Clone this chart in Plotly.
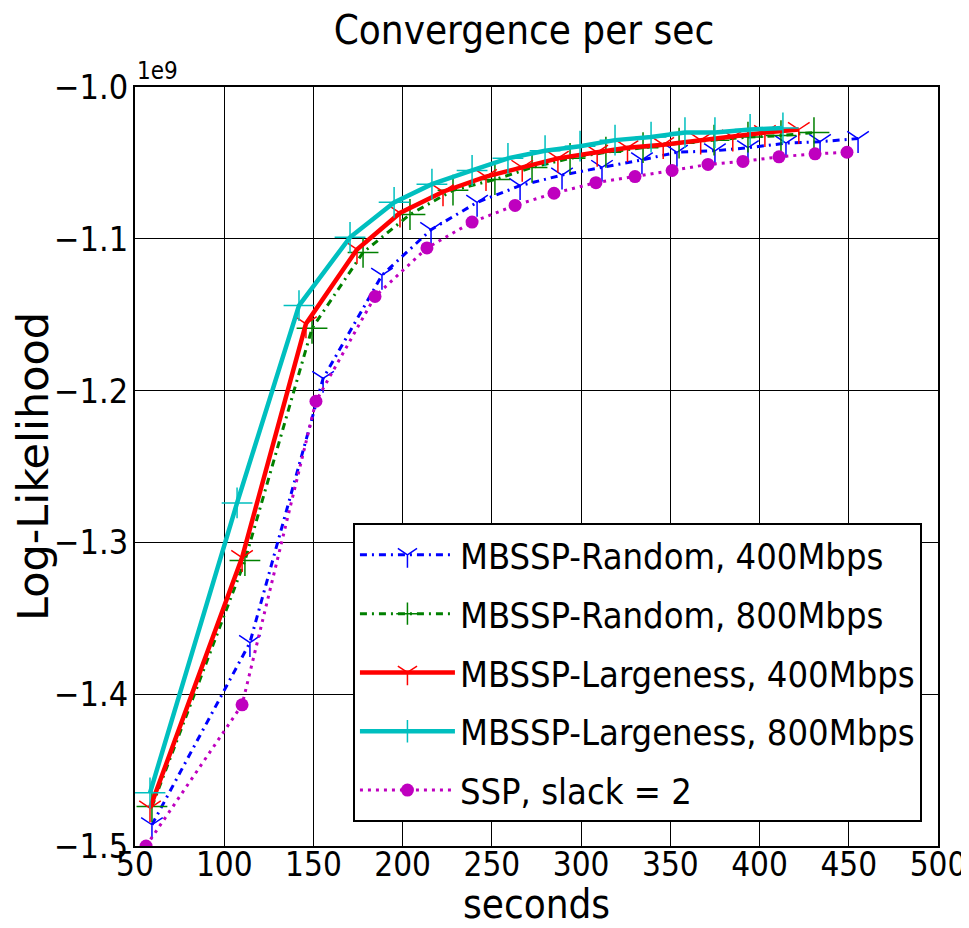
import plotly.graph_objects as go

# Values in units of 1e9
rand400_x = [59.5, 114.4, 155.4, 188.4, 215.9, 241.7, 265.8, 289.3, 311.7, 334.1, 353.7, 375.0, 393.5, 414.8, 433.9, 455.2]
rand400_y = [-1.486, -1.366, -1.192, -1.124, -1.094, -1.076, -1.065, -1.058, -1.053, -1.048, -1.043, -1.042, -1.040, -1.037, -1.036, -1.034]

rand800_x = [59.5, 111.6, 149.2, 177.8, 204.1, 228.2, 251.7, 272.5, 293.8, 313.9, 334.7, 354.9, 374.5, 393.5, 412.0, 430.5]
rand800_y = [-1.474, -1.312, -1.159, -1.109, -1.084, -1.068, -1.061, -1.053, -1.047, -1.043, -1.040, -1.037, -1.035, -1.033, -1.032, -1.030]

large400_x = [58.4, 110.0, 145.8, 174.4, 198.5, 222.6, 246.7, 267.0, 287.0, 309.0, 326.0, 346.0, 367.0, 385.0, 403.0, 422.0]
large400_y = [-1.475, -1.310, -1.156, -1.107, -1.083, -1.069, -1.059, -1.053, -1.047, -1.043, -1.040, -1.038, -1.035, -1.033, -1.030, -1.028]

large800_x = [58.4, 107.2, 141.9, 170.5, 195.2, 216.4, 238.9, 259.0, 279.8, 299.4, 319.0, 339.2, 358.2, 375.0, 394.7, 413.1]
large800_y = [-1.465, -1.274, -1.144, -1.099, -1.076, -1.064, -1.055, -1.047, -1.042, -1.039, -1.035, -1.033, -1.030, -1.030, -1.028, -1.027]

ssp_x = [56.2, 110.0, 151.4, 184.5, 213.6, 238.9, 263.0, 284.8, 308.3, 330.2, 351.0, 371.1, 390.7, 410.9, 431.1, 449.0]
ssp_y = [-1.500, -1.407, -1.207, -1.138, -1.106, -1.089, -1.078, -1.070, -1.063, -1.059, -1.055, -1.051, -1.049, -1.046, -1.044, -1.043]

x_ticks = [50, 100, 150, 200, 250, 300, 350, 400, 450, 500]
y_ticks = [-1.5, -1.4, -1.3, -1.2, -1.1, -1.0]
y_ticktext = ["\u22121.5", "\u22121.4", "\u22121.3", "\u22121.2", "\u22121.1", "\u22121.0"]

FONT = "DejaVu Sans Condensed, Liberation Sans Narrow, DejaVu Sans, sans-serif"

series = [
    ("MBSSP-Random, 400Mbps", rand400_x, rand400_y, "#0000ff", 3, "7px,5px,2px,5px", "y-down", 18, 1.5),
    ("MBSSP-Random, 800Mbps", rand800_x, rand800_y, "#008000", 3, "7px,5px,2px,5px", "cross-thin", 22, 1.5),
    ("MBSSP-Largeness, 400Mbps", large400_x, large400_y, "#ff0000", 4.5, "solid", "y-down", 18, 1.5),
    ("MBSSP-Largeness, 800Mbps", large800_x, large800_y, "#00bfbf", 4.5, "solid", "cross-thin", 22, 1.5),
    ("SSP, slack = 2", ssp_x, ssp_y, "#bf00bf", 3, "3px,5px", "circle", 13, 0),
]

fig = go.Figure()
for i, (name, xs, ys, col, lw, dash, sym, msize, mlw) in enumerate(series):
    fig.add_trace(go.Scatter(
        x=xs, y=ys, name=name, mode="lines+markers",
        legendgroup=f"g{i}",
        line=dict(color=col, width=lw, dash=dash),
        marker=dict(symbol=sym, size=msize, color=col,
                    line=dict(color=col, width=mlw if mlw else 0)),
    ))

axis_common = dict(
    showgrid=True, gridcolor="black", gridwidth=1,
    showline=True, linecolor="black", linewidth=2, mirror="ticks",
    ticks="inside", ticklen=8, tickcolor="black", tickwidth=1,
    zeroline=False, automargin=False,
)

W, H = 961, 912
PLOT_H = 759
fig.update_layout(
    width=W, height=H,
    margin=dict(l=127, r=31, t=79, b=H - 79 - PLOT_H),
    paper_bgcolor="white", plot_bgcolor="white",
    font=dict(family=FONT, color="black"),
    title=dict(text="Convergence per sec", x=516 / W, xanchor="center",
               y=1 - 22 / H, yanchor="middle", automargin=False,
               font=dict(family=FONT, size=40, color="black")),
    xaxis=dict(range=[50, 500], tickvals=x_ticks, ticklabelstandoff=-12,
               tickfont=dict(family=FONT, size=33, color="black"),
               **axis_common),
    yaxis=dict(range=[-1.5, -1.0], tickvals=y_ticks, ticktext=y_ticktext,
               ticklabelstandoff=-2,
               tickfont=dict(family=FONT, size=34, color="black"),
               title=dict(text="Log-Likelihood", font=dict(family="DejaVu Sans", size=43), standoff=8),
               **axis_common),
    legend=dict(x=0.98, xanchor="right", y=0.4256, yanchor="top",
                bgcolor="white", bordercolor="black", borderwidth=2,
                font=dict(family=FONT, size=36, color="black"),
                itemwidth=95,
                tracegroupgap=9, traceorder="grouped"),
    annotations=[
        dict(text="1e9", xref="paper", yref="paper", x=0.0, y=1.0,
             xanchor="left", yanchor="bottom", showarrow=False,
             font=dict(family=FONT, size=24, color="black")),
        dict(text="seconds", xref="paper", yref="paper", x=0.5, y=-58 / PLOT_H,
             xanchor="center", yanchor="middle", showarrow=False,
             font=dict(family=FONT, size=40, color="black")),
    ],
)

fig.write_html("out.html")
